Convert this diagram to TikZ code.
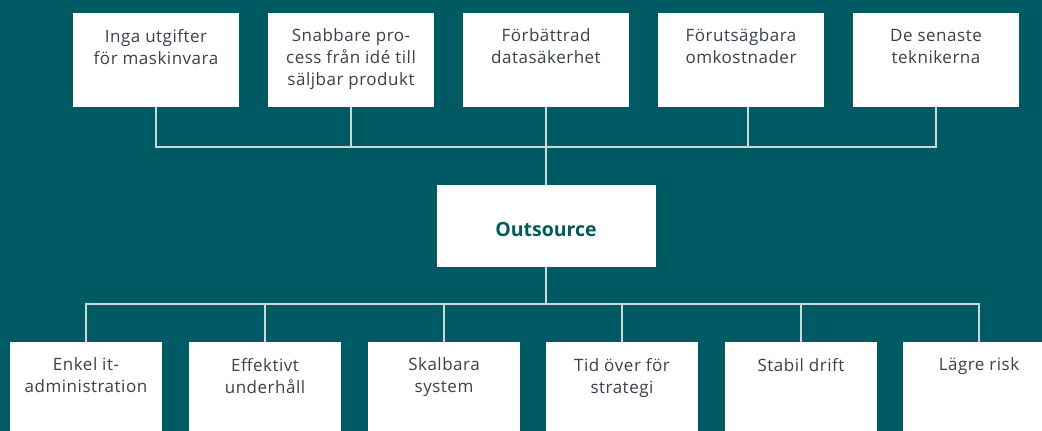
\documentclass[tikz,border=0pt]{standalone}
\usepackage{fontspec}
\setmainfont{Open Sans}
\definecolor{petrol}{HTML}{005A63}
\definecolor{inkgray}{HTML}{3A404C}
\definecolor{linegray}{HTML}{CCD9DA}
\begin{document}
\begin{tikzpicture}[x=1pt,y=-1pt,
  topbox/.style={fill=white,minimum width=166pt,minimum height=94pt,inner sep=0},
  botbox/.style={fill=white,minimum width=152pt,minimum height=94pt,inner sep=0},
  boxtext/.style={anchor=north,inner sep=0,yshift=-16pt,align=center,text=inkgray,
    font=\addfontfeature{LetterSpace=3}\fontsize{17}{22}\selectfont},
  conn/.style={draw=linegray,line width=1.2pt}]
\useasboundingbox (0,0) rectangle (1042,431);
\fill[petrol] (0,0) rectangle (1042,431);
\clip (0,0) rectangle (1042,431);
% top row
\node[topbox] (t1) at (156,60) {};
\node[topbox] (t2) at (351,60) {};
\node[topbox] (t3) at (546,60) {};
\node[topbox] (t4) at (741,60) {};
\node[topbox] (t5) at (936,60) {};
\node[boxtext] (l1) at (t1.north) {Inga utgifter\\för maskinvara};
\node[boxtext] (l2) at (t2.north) {Snabbare pro-\\cess från idé till\\säljbar produkt};
\node[boxtext] (l3) at (t3.north) {Förbättrad\\datasäkerhet};
\node[boxtext] (l4) at (t4.north) {Förutsägbara\\omkostnader};
\node[boxtext] (l5) at (t5.north) {De senaste\\teknikerna};
% middle
\node[fill=white,minimum width=219pt,minimum height=82pt,inner sep=0] (out) at (546,226) {};
\node[text=petrol,font=\bfseries\fontsize{19.5}{22}\selectfont] (outlbl) at ([yshift=-4pt]out.center) {Outsource};
% bottom row
\node[botbox] (b1) at (86,389) {};
\node[botbox] (b2) at (265,389) {};
\node[botbox] (b3) at (444,389) {};
\node[botbox] (b4) at (622,389) {};
\node[botbox] (b5) at (801,389) {};
\node[botbox] (b6) at (979,389) {};
\node[boxtext] (m1) at (b1.north) {Enkel it-\\administration};
\node[boxtext] (m2) at (b2.north) {Effektivt\\underhåll};
\node[boxtext] (m3) at (b3.north) {Skalbara\\system};
\node[boxtext] (m4) at (b4.north) {Tid över för\\strategi};
\node[boxtext] (m5) at (b5.north) {Stabil drift};
\node[boxtext] (m6) at (b6.north) {Lägre risk};
% connectors
\coordinate (topbus) at (546,147);
\coordinate (botbus) at (546,304);
\draw[conn] (t1.south) |- (topbus);
\draw[conn] (t2.south) |- (topbus);
\draw[conn] ([xshift=7pt]t4.south) |- (topbus);
\draw[conn] (t5.south) |- (topbus);
\draw[conn] (t3.south) -- (out.north);
\draw[conn] (out.south) -- (botbus);
\foreach \b in {b1,b2,b3,b4,b5,b6}
  \draw[conn] (\b.north) |- (botbus);
\end{tikzpicture}
\end{document}
